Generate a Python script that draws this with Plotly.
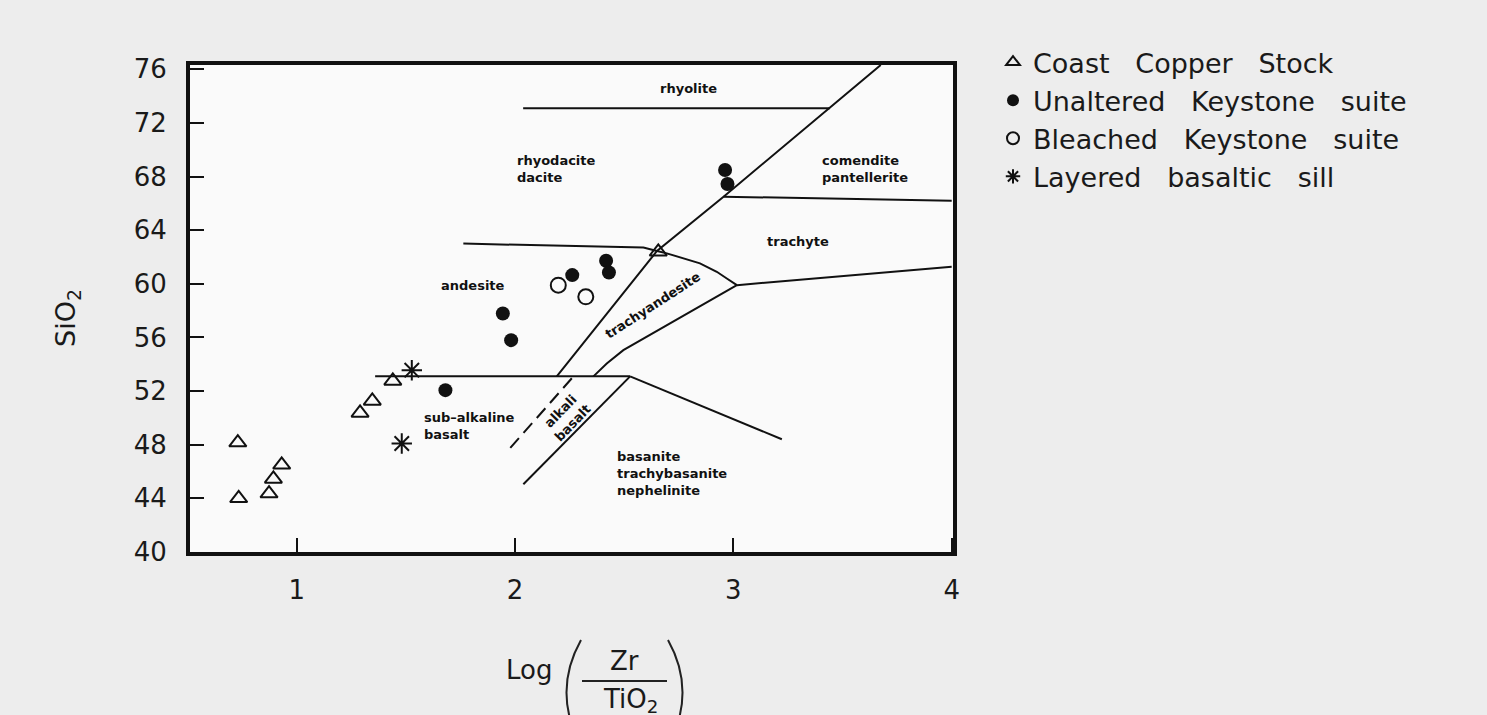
import plotly.graph_objects as go

# ---------------- data ----------------
coast_x = [0.73, 0.734, 0.873, 0.893, 0.931, 1.29, 1.346, 1.44, 2.656]
coast_y = [48.16, 44.0, 44.36, 45.45, 46.5, 50.37, 51.27, 52.76, 62.39]

unaltered_x = [1.944, 1.982, 1.681, 2.262, 2.417, 2.43, 2.962, 2.973]
unaltered_y = [57.79, 55.80, 52.07, 60.65, 61.72, 60.85, 68.49, 67.44]

bleached_x = [2.198, 2.324]
bleached_y = [59.9, 59.03]

sill_x = [1.527, 1.481]
sill_y = [53.56, 48.09]

# field boundaries (Winchester & Floyd style)
rhyolite_bx = [2.037, 3.443]
rhyolite_by = [73.1, 73.1]
diag_bx = [2.191, 2.65, 2.955, 3.675]
diag_by = [53.1, 62.45, 66.5, 76.32]
andesite_top_bx = [1.763, 2.588, 2.65]
andesite_top_by = [63.0, 62.7, 62.45]
tra_upper_bx = [2.65, 2.695, 2.847, 2.924, 2.97, 3.016]
tra_upper_by = [62.45, 62.27, 61.53, 60.9, 60.4, 59.9]
trachyte_low_bx = [3.016, 4.0]
trachyte_low_by = [59.9, 61.27]
tra_lower_bx = [3.016, 2.496, 2.42, 2.376, 2.359]
tra_lower_by = [59.9, 55.05, 54.06, 53.41, 53.1]
comendite_bx = [2.955, 4.0]
comendite_by = [66.5, 66.19]
basalt_bx = [1.359, 2.527]
basalt_by = [53.1, 53.1]
alkali_bx = [2.527, 2.038]
alkali_by = [53.1, 45.05]
basanite_bx = [2.527, 3.222]
basanite_by = [53.1, 48.41]
dashed_bx = [2.26, 1.969]
dashed_by = [52.96, 47.59]

field_labels = ["rhyolite", "rhyodacite<br>dacite", "comendite<br>pantellerite", "trachyte",
                "andesite", "sub\u2013alkaline<br>basalt", "basanite<br>trachybasanite<br>nephelinite"]
field_label_x = [2.794, 2.0, 3.397, 3.296, 1.809, 1.573, 2.458]
field_label_y = [74.58, 68.57, 68.57, 63.13, 59.9, 49.38, 45.84]

rot_labels = ["trachyandesite", "alkali<br>basalt"]
rot_label_x = [2.63, 2.237]
rot_label_y = [58.35, 50.07]

x_ticks = [1, 2, 3, 4]
y_ticks = [40, 44, 48, 52, 56, 60, 64, 68, 72, 76]

# ---------------- figure ----------------
W, H = 1487, 715
L, R, T, B = 190, 953, 65, 552


def px(xp):
    return (xp - L) / (R - L)


def py(yp):
    return (B - yp) / (B - T)


fig = go.Figure()

solid = [
    (rhyolite_bx, rhyolite_by), (diag_bx, diag_by), (andesite_top_bx, andesite_top_by),
    (tra_upper_bx, tra_upper_by), (trachyte_low_bx, trachyte_low_by),
    (tra_lower_bx, tra_lower_by), (comendite_bx, comendite_by), (basalt_bx, basalt_by),
    (alkali_bx, alkali_by), (basanite_bx, basanite_by),
]
for bx, by in solid:
    fig.add_trace(go.Scatter(x=bx, y=by, mode="lines", line=dict(color="#111", width=2),
                             showlegend=False, hoverinfo="skip"))
fig.add_trace(go.Scatter(x=dashed_bx, y=dashed_by, mode="lines",
                         line=dict(color="#111", width=2, dash="13px,7px"),
                         showlegend=False, hoverinfo="skip"))

SP = "\u00a0" * 3
fig.add_trace(go.Scatter(x=coast_x, y=coast_y, mode="markers", legendgroup="a",
                         name=f"Coast{SP}Copper{SP}Stock",
                         marker=dict(symbol="triangle-up-open", size=15, color="#111",
                                     line=dict(width=2, color="#111"))))
fig.add_trace(go.Scatter(x=unaltered_x, y=unaltered_y, mode="markers", legendgroup="b",
                         name=f"Unaltered{SP}Keystone{SP}suite",
                         marker=dict(symbol="circle", size=14, color="#111")))
fig.add_trace(go.Scatter(x=bleached_x, y=bleached_y, mode="markers", legendgroup="c",
                         name=f"Bleached{SP}Keystone{SP}suite",
                         marker=dict(symbol="circle-open", size=15, color="#111",
                                     line=dict(width=2, color="#111"))))
fig.add_trace(go.Scatter(x=sill_x, y=sill_y, mode="markers", legendgroup="d",
                         name=f"Layered{SP}basaltic{SP}sill",
                         marker=dict(symbol="asterisk-open", size=17, color="#111",
                                     line=dict(width=2, color="#111"))))

label_font = dict(family="DejaVu Sans", size=13, color="#111", weight="bold")
for t, x, y in zip(field_labels, field_label_x, field_label_y):
    anchor = "center" if t in ("rhyolite", "trachyte", "andesite") else "left"
    fig.add_annotation(x=x, y=y, text=t, showarrow=False, xanchor=anchor, yanchor="middle",
                       align="left", font=label_font)
for t, x, y, ang in zip(rot_labels, rot_label_x, rot_label_y, [-33, -46]):
    fig.add_annotation(x=x, y=y, text=t, showarrow=False, textangle=ang, align="center",
                       xanchor="center", yanchor="middle", font=label_font)

big_font = dict(family="DejaVu Sans", size=26, color="#1a1a1a")


def paper_text(xp, yp, text, angle=0, size=26):
    fig.add_annotation(xref="paper", yref="paper", x=px(xp), y=py(yp), text=text,
                       textangle=angle, showarrow=False, xanchor="center", yanchor="middle",
                       font=dict(big_font, size=size))


# y-axis title
paper_text(67, 318, "SiO<sub>2</sub>", -90, 27)

# x-axis title: Log ( Zr / TiO2 )
paper_text(529, 670, "Log")
paper_text(624, 661, "Zr")
paper_text(630, 700, "TiO<sub>2</sub>")
fig.add_shape(type="line", xref="paper", yref="paper", x0=px(582), x1=px(667),
              y0=py(681), y1=py(681), line=dict(color="#222", width=2))
fig.add_shape(type="path", xref="paper", yref="paper",
              path=f"M {px(581)},{py(640)} Q {px(553)},{py(690)} {px(579)},{py(742)}",
              line=dict(color="#222", width=2))
fig.add_shape(type="path", xref="paper", yref="paper",
              path=f"M {px(668)},{py(640)} Q {px(696)},{py(690)} {px(670)},{py(742)}",
              line=dict(color="#222", width=2))

fig.update_xaxes(range=[0.511, 4.006], tickvals=x_ticks, ticktext=[str(v) for v in x_ticks],
                 ticks="inside", ticklen=14, tickwidth=2, tickcolor="#111",
                 showline=True, linewidth=4, linecolor="#111", mirror=True,
                 showgrid=False, zeroline=False, tickfont=big_font, ticklabelstandoff=12)
fig.update_yaxes(range=[40, 76.32], tickvals=y_ticks, ticktext=[str(v) for v in y_ticks],
                 ticks="inside", ticklen=14, tickwidth=2, tickcolor="#111",
                 showline=True, linewidth=4, linecolor="#111", mirror=True,
                 showgrid=False, zeroline=False, tickfont=big_font, ticklabelstandoff=14)

fig.update_layout(
    width=W, height=H,
    margin=dict(l=L, r=W - R, t=T, b=H - B, pad=0),
    paper_bgcolor="#ededed", plot_bgcolor="#fafafa",
    legend=dict(x=px(993), y=py(38), xanchor="left", yanchor="top",
                font=dict(family="DejaVu Sans", size=27, color="#1a1a1a"),
                itemsizing="constant", tracegroupgap=0, bgcolor="rgba(0,0,0,0)"),
    showlegend=True,
)

fig.write_html("out.html", config={"displayModeBar": False},
               post_script="document.body.style.margin='0';document.body.style.overflow='hidden';")
